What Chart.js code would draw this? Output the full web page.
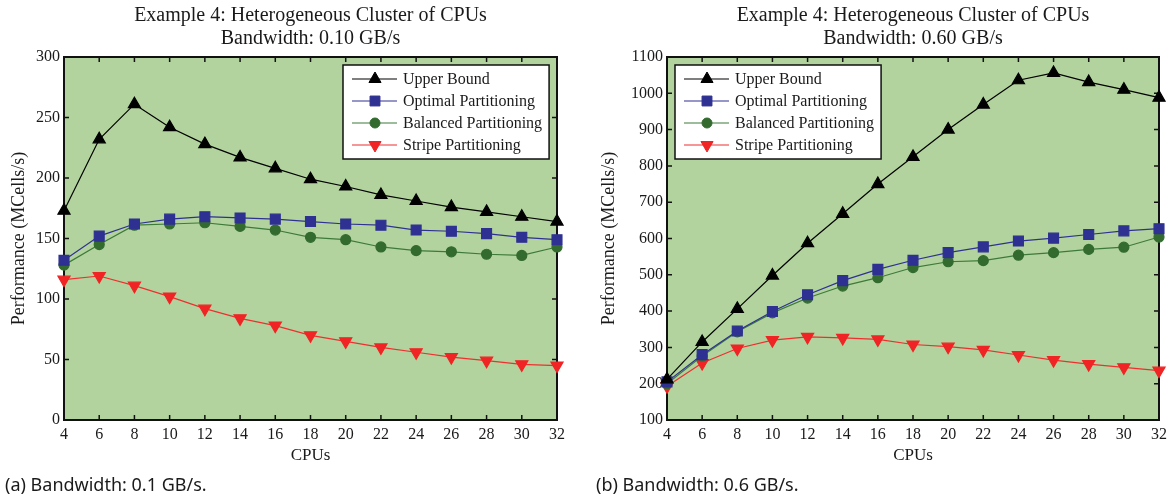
<!DOCTYPE html>
<html>
<head>
<meta charset="utf-8">
<script src="https://cdn.jsdelivr.net/npm/chart.js"></script>
<style>
body { margin: 0; width: 1172px; height: 498px; background: #fff; position: relative; overflow: hidden; }
canvas { position: absolute; top: 0; }
#chartA { left: 0; }
#chartB { left: 586px; }
.cap { position: absolute; top: 472px; font: 18px "Noto Sans", sans-serif; line-height: 24px; color: #1a1a1a; white-space: nowrap; }
</style>
</head>
<body>
<canvas id="chartA" width="586" height="498"></canvas>
<canvas id="chartB" width="586" height="498"></canvas>
<div class="cap" style="left:5px">(a) Bandwidth: 0.1 GB/s.</div>
<div class="cap" style="left:596px">(b) Bandwidth: 0.6 GB/s.</div>
<script>
// x values
const cpus = [4, 6, 8, 10, 12, 14, 16, 18, 20, 22, 24, 26, 28, 30, 32];
const seriesNames = ['Upper Bound', 'Optimal Partitioning', 'Balanced Partitioning', 'Stripe Partitioning'];

// (a) 0.10 GB/s
const upperA    = [173, 232, 261, 242, 228, 217, 208, 199, 193, 186, 181, 176, 172, 168, 164];
const optimalA  = [132, 152, 162, 166, 168, 167, 166, 164, 162, 161, 157, 156, 154, 151, 149];
const balancedA = [128, 145, 161, 162, 163, 160, 157, 151, 149, 143, 140, 139, 137, 136, 143];
const stripeA   = [116, 119, 111, 102, 92, 84, 78, 70, 65, 60, 56, 52, 49, 46, 45];

// (b) 0.60 GB/s
const upperB    = [212, 315, 406, 498, 587, 668, 750, 825, 900, 969, 1036, 1056, 1031, 1010, 988];
const optimalB  = [205, 280, 345, 399, 445, 484, 515, 540, 561, 577, 593, 601, 611, 621, 627];
const balancedB = [200, 276, 343, 395, 436, 469, 492, 520, 536, 539, 554, 561, 570, 576, 604];
const stripeB   = [193, 257, 297, 320, 329, 326, 322, 308, 302, 293, 279, 265, 254, 245, 236];

const serif = '"Liberation Serif", "Times New Roman", serif';
const plotBg = '#b2d39d';

const styles = [
  { line: '#000000', fill: '#000000', shape: 'triangle', r: 7, rot: 0 },
  { line: '#2e3192', fill: '#2e3192', shape: 'rect', r: 7, rot: 0 },
  { line: '#3d7a3a', fill: '#336b2f', shape: 'circle', r: 5, rot: 0 },
  { line: '#ef2f2f', fill: '#f02424', shape: 'triangle', r: 7, rot: 180 }
];

function drawMarker(ctx, s, x, y) {
  ctx.save();
  ctx.fillStyle = s.fill;
  ctx.strokeStyle = s.fill;
  ctx.lineWidth = 1;
  if (Chart.helpers && Chart.helpers.drawPoint) {
    Chart.helpers.drawPoint(ctx, { pointStyle: s.shape, radius: s.r, rotation: s.rot, borderWidth: 1 }, x, y);
  }
  ctx.restore();
}

// green plot background, frame and inward ticks
const framePlugin = {
  id: 'frame',
  beforeDraw(chart) {
    const { ctx, chartArea: a } = chart;
    ctx.save();
    ctx.fillStyle = plotBg;
    ctx.fillRect(a.left, a.top, a.right - a.left, a.bottom - a.top);
    ctx.restore();
  },
  beforeDatasetsDraw(chart) {
    const { ctx, chartArea: a, scales } = chart;
    ctx.save();
    ctx.strokeStyle = '#111';
    ctx.lineWidth = 1.5;
    ctx.beginPath();
    scales.x.ticks.forEach(t => {
      const px = scales.x.getPixelForValue(t.value);
      ctx.moveTo(px, a.bottom); ctx.lineTo(px, a.bottom - 5);
      ctx.moveTo(px, a.top); ctx.lineTo(px, a.top + 5);
    });
    scales.y.ticks.forEach(t => {
      const py = scales.y.getPixelForValue(t.value);
      ctx.moveTo(a.left, py); ctx.lineTo(a.left + 5, py);
      ctx.moveTo(a.right, py); ctx.lineTo(a.right - 5, py);
    });
    ctx.stroke();
    ctx.lineWidth = 2;
    ctx.strokeRect(a.left, a.top, a.right - a.left, a.bottom - a.top);
    ctx.restore();
  }
};

// boxed legend inside the plot
const boxLegend = {
  id: 'boxLegend',
  afterDatasetsDraw(chart, args, opts) {
    const { ctx, chartArea: a } = chart;
    const names = chart.data.datasets.map(d => d.label);
    ctx.save();
    ctx.font = '16px ' + serif;
    const tw = Math.max(...names.map(n => ctx.measureText(n).width));
    const w = 8 + 45 + 6 + tw + 8;
    const h = 94;
    const x0 = opts.side === 'right' ? a.right - 214 : a.left + 8;
    const y0 = a.top + 8;
    ctx.fillStyle = '#fff';
    ctx.fillRect(x0, y0, w, h);
    ctx.strokeStyle = '#111';
    ctx.lineWidth = 1.5;
    ctx.strokeRect(x0, y0, w, h);
    names.forEach((n, i) => {
      const s = styles[i];
      const y = y0 + 14 + i * 22;
      ctx.strokeStyle = s.line;
      ctx.lineWidth = 1.2;
      ctx.beginPath();
      ctx.moveTo(x0 + 9, y); ctx.lineTo(x0 + 54, y);
      ctx.stroke();
      drawMarker(ctx, s, x0 + 32, y);
      ctx.fillStyle = '#1a1a1a';
      ctx.textBaseline = 'middle';
      ctx.textAlign = 'left';
      ctx.fillText(n, x0 + 60, y + 1);
    });
    ctx.restore();
  }
};

function makeChart(id, bandwidth, series, yMin, yMax, yStep, legendSide, axisW, rightPad, yTitlePad) {
  const datasets = series.map((vals, i) => ({
    label: seriesNames[i],
    data: cpus.map((c, j) => ({ x: c, y: vals[j] })),
    borderColor: styles[i].line,
    backgroundColor: styles[i].fill,
    pointBackgroundColor: styles[i].fill,
    pointBorderColor: styles[i].fill,
    pointStyle: styles[i].shape,
    pointRadius: styles[i].r,
    pointRotation: styles[i].rot,
    borderWidth: 1.2,
    tension: 0,
    clip: false
  }));
  return new Chart(document.getElementById(id), {
    type: 'line',
    data: { datasets },
    plugins: [framePlugin, boxLegend],
    options: {
      responsive: false,
      animation: false,
      layout: { padding: { left: 0, right: rightPad, top: 0, bottom: 0 } },
      plugins: {
        legend: { display: false },
        tooltip: { enabled: false },
        boxLegend: { side: legendSide },
        title: {
          display: true,
          fullSize: false,
          text: ['Example 4: Heterogeneous Cluster of CPUs', 'Bandwidth: ' + bandwidth + ' GB/s'],
          color: '#1a1a1a',
          font: { family: serif, size: 20, weight: 'normal', lineHeight: 1.15 },
          padding: { top: 4.5, bottom: 6.5 }
        }
      },
      scales: {
        x: {
          type: 'linear',
          min: 4, max: 32,
          grid: { display: false, drawTicks: false },
          border: { display: false },
          ticks: { stepSize: 2, color: '#1a1a1a', padding: 5, font: { family: serif, size: 16 } },
          title: { display: true, text: 'CPUs', color: '#1a1a1a', font: { family: serif, size: 17 }, padding: { top: 32, bottom: 32 } },
          afterFit(scale) { scale.height = 78; }
        },
        y: {
          min: yMin, max: yMax,
          grid: { display: false, drawTicks: false },
          border: { display: false },
          ticks: { stepSize: yStep, color: '#1a1a1a', padding: 4, font: { family: serif, size: 16 }, callback: v => String(v) },
          title: { display: true, text: 'Performance (MCells/s)', color: '#1a1a1a', font: { family: serif, size: 18 }, padding: { top: yTitlePad, bottom: yTitlePad } },
          afterFit(scale) { scale.width = axisW; }
        }
      }
    }
  });
}

makeChart('chartA', '0.10', [upperA, optimalA, balancedA, stripeA], 0, 300, 50, 'right', 64, 29, 8);
makeChart('chartB', '0.60', [upperB, optimalB, balancedB, stripeB], 100, 1100, 100, 'left', 81, 12, 12.5);
</script>
</body>
</html>
